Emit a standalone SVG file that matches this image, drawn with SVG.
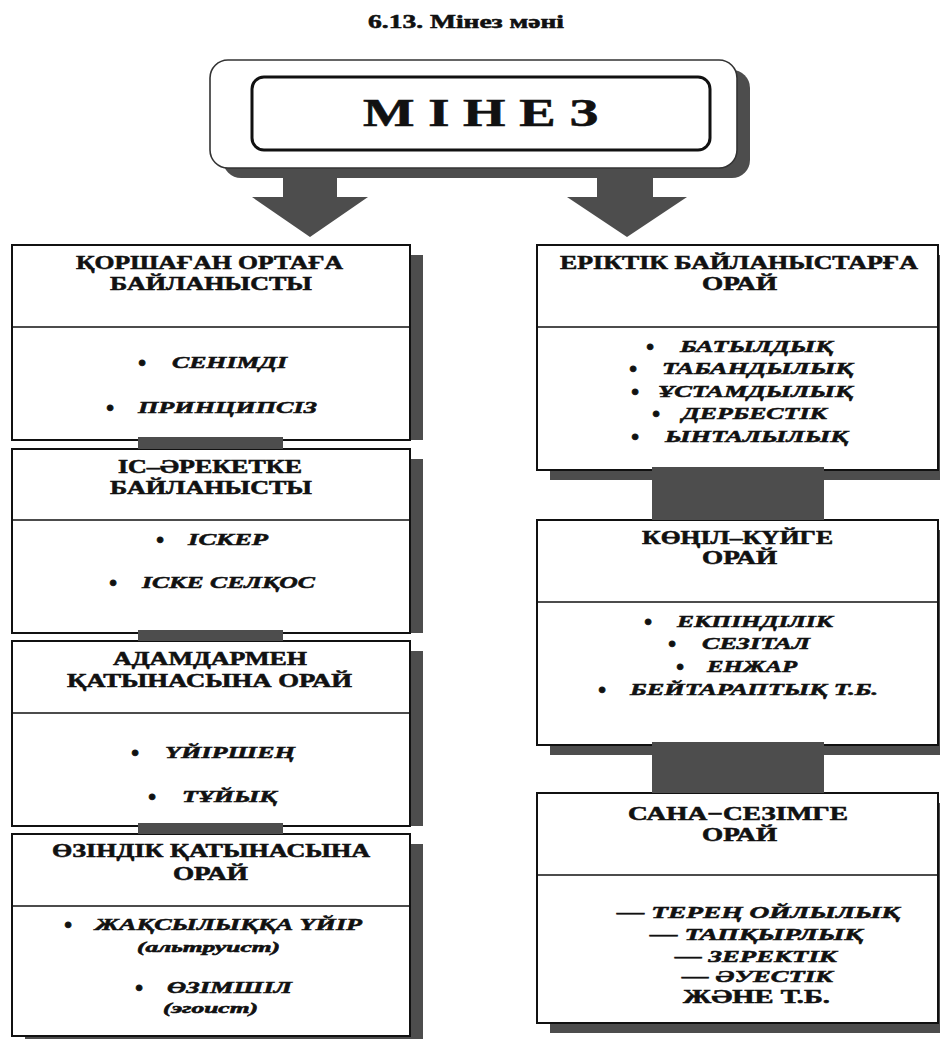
<svg xmlns="http://www.w3.org/2000/svg" width="940" height="1039" viewBox="0 0 940 1039">
<style>
.t{font-family:"Liberation Serif","Times New Roman",serif;fill:#111;font-weight:bold;stroke:#111;stroke-width:0.55;transform:scale(1.35,1);transform-origin:0 0}
.hdr{font-size:19px}
.itm{font-size:17px;font-style:italic}
.sm{font-size:14px;font-style:italic}
.bul{font-family:"Liberation Serif","Times New Roman",serif;font-size:22px;font-weight:bold;text-anchor:middle;fill:#111;stroke:#111;stroke-width:0.8}
.box{fill:#fff;stroke:#111;stroke-width:2}
.div{stroke:#111;stroke-width:1.6}
.sh{fill:#4d4d4d}
.con{fill:#4d4d4d}
</style>
<rect width="940" height="1039" fill="#fff"/>
<text class="t" x="272.6" y="28" font-size="19" textLength="145.2" lengthAdjust="spacingAndGlyphs">6.13. Мінез мәні</text>

<g id="connectors">
<polygon class="con" points="283,176 337,176 337,197 368,197 310,237 252,197 283,197"/>
<polygon class="con" points="597,176 653,176 653,197 687,197 627,237 567,197 597,197"/>
</g>

<g id="minez">
<rect class="sh" x="223" y="70" width="527" height="108" rx="18"/>
<rect x="210" y="60" width="527" height="108" rx="18" fill="#fff" stroke="#333" stroke-width="1.6"/>
<rect x="252" y="77" width="458" height="73" rx="12" fill="#fff" stroke="#111" stroke-width="3"/>
<text class="t" x="268.9" y="126" font-size="39" textLength="174.1" lengthAdjust="spacingAndGlyphs">М І Н Е З</text>
</g>

<g id="box-l1">
<rect class="sh" x="410" y="255" width="13" height="185"/>
<rect class="box" x="12" y="245" width="398" height="195"/>
<line class="div" x1="12" y1="327" x2="410" y2="327"/>
<text class="t hdr" x="56.3" y="269" textLength="197.8" lengthAdjust="spacingAndGlyphs">ҚОРШАҒАН ОРТАҒА</text>
<text class="t hdr" x="81.5" y="290" textLength="149.6" lengthAdjust="spacingAndGlyphs">БАЙЛАНЫСТЫ</text>
<text class="bul" x="142" y="370">•</text>
<text class="t itm" x="127.4" y="368" textLength="85.2" lengthAdjust="spacingAndGlyphs">СЕНІМДІ</text>
<text class="bul" x="110" y="415">•</text>
<text class="t itm" x="102.2" y="413" textLength="132.6" lengthAdjust="spacingAndGlyphs">ПРИНЦИПСІЗ</text>
</g>

<g id="box-l2">
<rect class="sh" x="410" y="459" width="13" height="174"/>
<rect class="box" x="12" y="449" width="398" height="184"/>
<line class="div" x1="12" y1="520" x2="410" y2="520"/>
<text class="t hdr" x="87.4" y="473" textLength="136.3" lengthAdjust="spacingAndGlyphs">ІС–ӘРЕКЕТКЕ</text>
<text class="t hdr" x="81.5" y="494" textLength="149.6" lengthAdjust="spacingAndGlyphs">БАЙЛАНЫСТЫ</text>
<text class="bul" x="160" y="547">•</text>
<text class="t itm" x="139.3" y="545" textLength="59.3" lengthAdjust="spacingAndGlyphs">ІСКЕР</text>
<text class="bul" x="113" y="590">•</text>
<text class="t itm" x="105.2" y="588" textLength="128.1" lengthAdjust="spacingAndGlyphs">ІСКЕ СЕЛҚОС</text>
</g>

<g id="box-l3">
<rect class="sh" x="410" y="651" width="13" height="175"/>
<rect class="box" x="12" y="641" width="398" height="185"/>
<line class="div" x1="12" y1="713" x2="410" y2="713"/>
<text class="t hdr" x="83.7" y="665" textLength="143.7" lengthAdjust="spacingAndGlyphs">АДАМДАРМЕН</text>
<text class="t hdr" x="49.6" y="687" textLength="211.1" lengthAdjust="spacingAndGlyphs">ҚАТЫНАСЫНА ОРАЙ</text>
<text class="bul" x="135" y="760">•</text>
<text class="t itm" x="122.2" y="758" textLength="96.3" lengthAdjust="spacingAndGlyphs">ҮЙІРШЕҢ</text>
<text class="bul" x="152" y="804">•</text>
<text class="t itm" x="134.8" y="802" textLength="70.4" lengthAdjust="spacingAndGlyphs">ТҰЙЫҚ</text>
</g>

<g id="box-l4">
<rect class="sh" x="25" y="844" width="398" height="202"/>
<rect class="box" x="12" y="834" width="398" height="202"/>
<line class="div" x1="12" y1="906" x2="410" y2="906"/>
<text class="t hdr" x="38.5" y="857" textLength="235.6" lengthAdjust="spacingAndGlyphs">ӨЗІНДІК ҚАТЫНАСЫНА</text>
<text class="t hdr" x="128.1" y="880" textLength="55.6" lengthAdjust="spacingAndGlyphs">ОРАЙ</text>
<text class="bul" x="68" y="932">•</text>
<text class="t itm" x="70.4" y="930" textLength="197.8" lengthAdjust="spacingAndGlyphs">ЖАҚСЫЛЫҚҚА ҮЙІР</text>
<text class="t sm" x="101.5" y="952" textLength="105.9" lengthAdjust="spacingAndGlyphs">(альтруист)</text>
<text class="bul" x="139" y="995">•</text>
<text class="t itm" x="123.7" y="993" textLength="92.6" lengthAdjust="spacingAndGlyphs">ӨЗІМШІЛ</text>
<text class="t sm" x="120.7" y="1013" textLength="70.4" lengthAdjust="spacingAndGlyphs">(эгоист)</text>
</g>

<g id="box-r1">
<rect class="sh" x="550" y="255" width="401" height="225"/>
<rect class="box" x="537" y="245" width="401" height="225"/>
<line class="div" x1="537" y1="327" x2="938" y2="327"/>
<text class="t hdr" x="414.8" y="269" textLength="265.2" lengthAdjust="spacingAndGlyphs">ЕРІКТІК БАЙЛАНЫСТАРҒА</text>
<text class="t hdr" x="520" y="290" textLength="55.6" lengthAdjust="spacingAndGlyphs">ОРАЙ</text>
<text class="bul" x="650" y="354">•</text>
<text class="t itm" x="503.7" y="352" textLength="113.3" lengthAdjust="spacingAndGlyphs">БАТЫЛДЫҚ</text>
<text class="bul" x="633" y="376">•</text>
<text class="t itm" x="490.4" y="374" textLength="141.5" lengthAdjust="spacingAndGlyphs">ТАБАНДЫЛЫҚ</text>
<text class="bul" x="635" y="399">•</text>
<text class="t itm" x="487.4" y="397" textLength="144.4" lengthAdjust="spacingAndGlyphs">ҰСТАМДЫЛЫҚ</text>
<text class="bul" x="656" y="421">•</text>
<text class="t itm" x="505.2" y="419" textLength="107.4" lengthAdjust="spacingAndGlyphs">ДЕРБЕСТІК</text>
<text class="bul" x="635" y="444">•</text>
<text class="t itm" x="492.6" y="442" textLength="135.6" lengthAdjust="spacingAndGlyphs">ЫНТАЛЫЛЫҚ</text>
</g>

<g id="box-r2">
<rect class="sh" x="550" y="530" width="401" height="225"/>
<rect class="box" x="537" y="520" width="401" height="225"/>
<line class="div" x1="537" y1="602" x2="938" y2="602"/>
<text class="t hdr" x="475.6" y="544" textLength="141.5" lengthAdjust="spacingAndGlyphs">КӨҢІЛ–КҮЙГЕ</text>
<text class="t hdr" x="520" y="564" textLength="55.6" lengthAdjust="spacingAndGlyphs">ОРАЙ</text>
<text class="bul" x="648" y="629">•</text>
<text class="t itm" x="501.5" y="627" textLength="115.6" lengthAdjust="spacingAndGlyphs">ЕКПІНДІЛІК</text>
<text class="bul" x="672" y="651">•</text>
<text class="t itm" x="520" y="649" textLength="80" lengthAdjust="spacingAndGlyphs">СЕЗІТАЛ</text>
<text class="bul" x="680" y="674">•</text>
<text class="t itm" x="523.7" y="672" textLength="66.7" lengthAdjust="spacingAndGlyphs">ЕНЖАР</text>
<text class="bul" x="602" y="697">•</text>
<text class="t itm" x="466.7" y="695" textLength="183.7" lengthAdjust="spacingAndGlyphs">БЕЙТАРАПТЫҚ Т.Б.</text>
</g>

<g id="box-r3">
<rect class="sh" x="550" y="803" width="401" height="230"/>
<rect class="box" x="537" y="793" width="401" height="230"/>
<line class="div" x1="537" y1="875" x2="938" y2="875"/>
<text class="t hdr" x="465.2" y="820" textLength="163" lengthAdjust="spacingAndGlyphs">САНА−СЕЗІМГЕ</text>
<text class="t hdr" x="520" y="841" textLength="55.6" lengthAdjust="spacingAndGlyphs">ОРАЙ</text>
<text class="t itm" x="457" y="918" textLength="209.6" lengthAdjust="spacingAndGlyphs">— ТЕРЕҢ ОЙЛЫЛЫҚ</text>
<text class="t itm" x="481.5" y="940" textLength="157.8" lengthAdjust="spacingAndGlyphs">— ТАПҚЫРЛЫҚ</text>
<text class="t itm" x="500" y="962" textLength="120" lengthAdjust="spacingAndGlyphs">— ЗЕРЕКТІК</text>
<text class="t itm" x="505.2" y="982" textLength="111.9" lengthAdjust="spacingAndGlyphs">— ӘУЕСТІК</text>
<text class="t hdr" x="505.9" y="1003" font-size="18" textLength="108.9" lengthAdjust="spacingAndGlyphs">ЖӘНЕ Т.Б.</text>
</g>

<g id="connector-bars">
<rect class="con" x="138" y="437" width="145" height="12"/>
<rect class="con" x="138" y="630" width="145" height="11"/>
<rect class="con" x="138" y="823" width="145" height="11"/>
<rect class="con" x="652" y="467" width="172" height="53"/>
<rect class="con" x="652" y="742" width="172" height="51"/>
</g>
</svg>
